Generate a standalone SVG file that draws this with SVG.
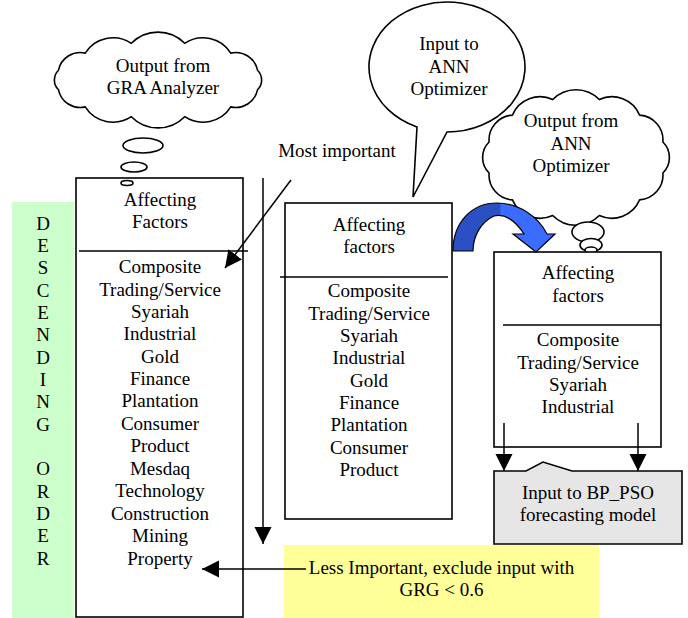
<svg xmlns="http://www.w3.org/2000/svg" width="688" height="618" viewBox="0 0 688 618">
<style>
text{font-family:"Liberation Serif","Times New Roman",serif;font-size:19px;fill:#000;text-anchor:middle}
.box{fill:#fff;stroke:#000;stroke-width:1.6}
.ln{fill:none;stroke:#000;stroke-width:1.5}
.bub{fill:#fff;stroke:#000;stroke-width:1.6}
</style>
<defs>
<marker id="ah" viewBox="0 0 10 10" refX="10" refY="5" markerUnits="userSpaceOnUse" markerWidth="17" markerHeight="18" orient="auto">
<path d="M0,0 L10,5 L0,10 z" fill="#000"/>
</marker>
<linearGradient id="blue" x1="453" y1="0" x2="555" y2="0" gradientUnits="userSpaceOnUse">
<stop offset="0" stop-color="#2a50c4"/>
<stop offset="0.46" stop-color="#2a50c4"/>
<stop offset="0.47" stop-color="#3a6cff"/>
<stop offset="1" stop-color="#3a6cff"/>
</linearGradient>
</defs>

<g id="descending-order">
<rect x="12" y="202" width="62" height="416" fill="#ccffcc"/>
<text x="43" y="229.5">D</text>
<text x="43" y="252">E</text>
<text x="43" y="274">S</text>
<text x="43" y="296.5">C</text>
<text x="43" y="319">E</text>
<text x="43" y="341">N</text>
<text x="43" y="363.5">D</text>
<text x="43" y="386">I</text>
<text x="43" y="408">N</text>
<text x="43" y="430.5">G</text>
<text x="43" y="475">O</text>
<text x="43" y="497.5">R</text>
<text x="43" y="520">D</text>
<text x="43" y="542">E</text>
<text x="43" y="564.5">R</text>
</g>

<g id="gra-box">
<rect class="box" x="76" y="178" width="167" height="439"/>
<line class="ln" x1="79" y1="251" x2="248" y2="251"/>
<text x="160" y="206">Affecting</text>
<text x="160" y="228">Factors</text>
<text x="160" y="273">Composite</text>
<text x="160" y="295.5">Trading/Service</text>
<text x="160" y="318">Syariah</text>
<text x="160" y="340">Industrial</text>
<text x="160" y="362.5">Gold</text>
<text x="160" y="385">Finance</text>
<text x="160" y="407">Plantation</text>
<text x="160" y="430">Consumer</text>
<text x="160" y="452">Product</text>
<text x="160" y="475">Mesdaq</text>
<text x="160" y="497">Technology</text>
<text x="160" y="519.5">Construction</text>
<text x="160" y="542">Mining</text>
<text x="160" y="564.5">Property</text>
</g>

<g id="gra-cloud">
<path class="bub" d="M58.5,89.8 A13.7,13.7 0 0 1 58.5,70.2 A22.2,22.2 0 0 1 85.2,53.1 A33,33 0 0 1 131.3,43.3 A37.4,37.4 0 0 1 184.7,43.3 A33,33 0 0 1 230.8,53.1 A22.2,22.2 0 0 1 257.5,70.2 A13.7,13.7 0 0 1 257.5,89.8 A22.2,22.2 0 0 1 230.8,106.9 A33,33 0 0 1 184.7,116.7 A37.4,37.4 0 0 1 131.3,116.7 A33,33 0 0 1 85.2,106.9 A22.2,22.2 0 0 1 58.5,89.8 Z"/>
<text x="163" y="72">Output from</text>
<text x="163" y="94">GRA Analyzer</text>
<ellipse class="bub" cx="143" cy="145.5" rx="20" ry="7.5"/>
<ellipse class="bub" cx="134" cy="167" rx="13" ry="5"/>
<ellipse class="bub" cx="127" cy="183" rx="6" ry="2.5"/>
</g>

<g id="most-important">
<text x="337" y="157">Most important</text>
</g>

<g id="ann-input-bubble">
<path class="bub" d="M417,127 A78,65 0 1 1 447,132 L413,197 Z"/>
<text x="449" y="50">Input to</text>
<text x="449" y="73">ANN</text>
<text x="449" y="95">Optimizer</text>
</g>

<g id="ann-box">
<rect class="box" x="285" y="203" width="167" height="316"/>
<line class="ln" x1="280" y1="277" x2="448" y2="277"/>
<text x="369" y="231">Affecting</text>
<text x="369" y="253">factors</text>
<text x="369" y="297">Composite</text>
<text x="369" y="319.5">Trading/Service</text>
<text x="369" y="342">Syariah</text>
<text x="369" y="364">Industrial</text>
<text x="369" y="386.5">Gold</text>
<text x="369" y="409">Finance</text>
<text x="369" y="431">Plantation</text>
<text x="369" y="453.5">Consumer</text>
<text x="369" y="476">Product</text>
</g>

<g id="ann-cloud">
<path class="bub" d="M489.1,173 A21.7,21.7 0 0 1 489.1,142 A24.9,24.9 0 0 1 512.4,115.1 A30.2,30.2 0 0 1 552.7,99.5 A32.6,32.6 0 0 1 599.3,99.5 A30.2,30.2 0 0 1 639.6,115.1 A24.9,24.9 0 0 1 662.9,142 A21.7,21.7 0 0 1 662.9,173 A24.9,24.9 0 0 1 639.6,199.9 A30.2,30.2 0 0 1 599.3,215.5 A32.6,32.6 0 0 1 552.7,215.5 A30.2,30.2 0 0 1 512.4,199.9 A24.9,24.9 0 0 1 489.1,173 Z"/>
<text x="571" y="127">Output from</text>
<text x="571" y="149.5">ANN</text>
<text x="571" y="172">Optimizer</text>
<ellipse class="bub" cx="588" cy="232" rx="16" ry="10"/>
<ellipse class="bub" cx="591" cy="245" rx="11" ry="6.5"/>
<ellipse class="bub" cx="591" cy="250" rx="6" ry="3"/>
</g>

<g id="final-box">
<rect class="box" x="494" y="252" width="167" height="195"/>
<line class="ln" x1="503" y1="325" x2="661" y2="325"/>
<text x="578" y="279">Affecting</text>
<text x="578" y="302">factors</text>
<text x="578" y="346">Composite</text>
<text x="578" y="368.5">Trading/Service</text>
<text x="578" y="391">Syariah</text>
<text x="578" y="413">Industrial</text>
</g>

<g id="bp-pso-box">
<path d="M494,471 L526,471 L543,462 L572,471 L682,471 L682,544 L494,544 Z" fill="#e6e6e6" stroke="#000" stroke-width="1.6"/>
<text x="588" y="499">Input to BP_PSO</text>
<text x="588" y="521">forecasting model</text>
</g>

<g id="exclude-note">
<rect x="284" y="545" width="315" height="73" fill="#ffff99"/>
<text x="441.5" y="574">Less Important, exclude input with</text>
<text x="441.5" y="596">GRG &lt; 0.6</text>
</g>

<g id="connectors">
<line class="ln" x1="263" y1="178" x2="263" y2="544" marker-end="url(#ah)"/>
<line class="ln" x1="291" y1="180" x2="225" y2="268" marker-end="url(#ah)"/>
<line class="ln" x1="306" y1="569" x2="202" y2="569" marker-end="url(#ah)"/>
<line class="ln" x1="504" y1="423" x2="504" y2="471" marker-end="url(#ah)"/>
<line class="ln" x1="638" y1="423" x2="638" y2="471" marker-end="url(#ah)"/>
<path d="M453,251 C453,222 472,203 497,203 C518,203 538,216 547,234 L555,234 L536,252 L513,234 L524,234 C515,220 504,213 494,216 C481,222 473,236 473,251 Z" fill="url(#blue)" stroke="#000" stroke-width="1.2"/>
</g>
</svg>
